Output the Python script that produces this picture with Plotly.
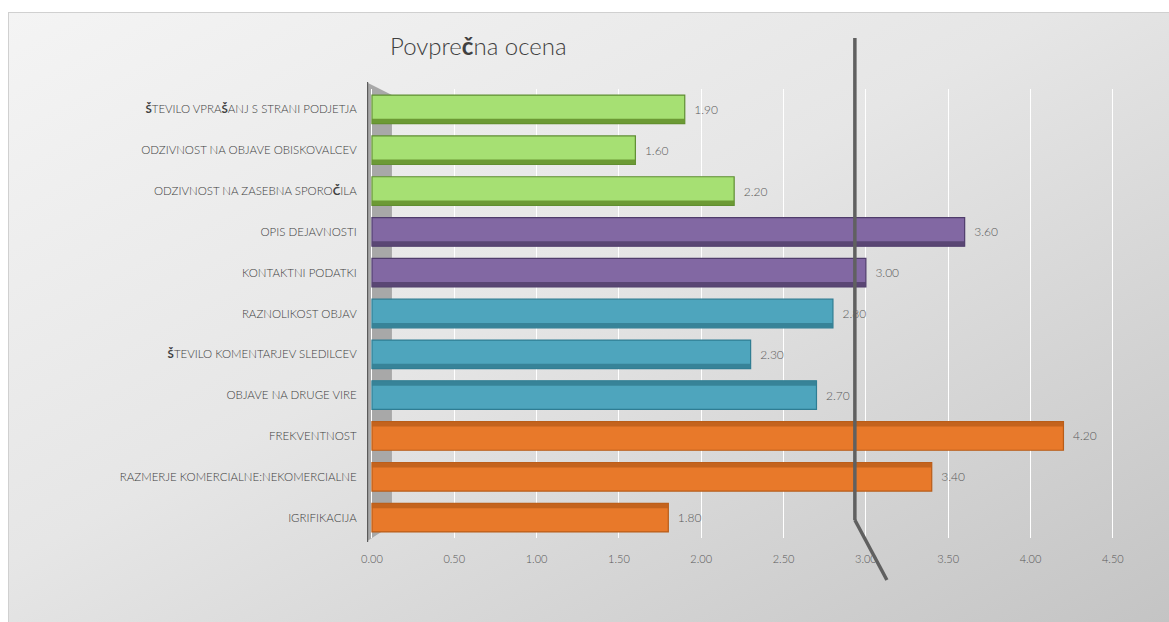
import base64
import plotly.graph_objects as go

# ---------------- data ----------------
categories = [
    "<b>Š</b>TEVILO VPRA<b>Š</b>ANJ S STRANI PODJETJA",
    "ODZIVNOST NA OBJAVE OBISKOVALCEV",
    "ODZIVNOST NA ZASEBNA SPORO<b>Č</b>ILA",
    "OPIS DEJAVNOSTI",
    "KONTAKTNI PODATKI",
    "RAZNOLIKOST OBJAV",
    "<b>Š</b>TEVILO KOMENTARJEV SLEDILCEV",
    "OBJAVE NA DRUGE VIRE",
    "FREKVENTNOST",
    "RAZMERJE KOMERCIALNE:NEKOMERCIALNE",
    "IGRIFIKACIJA",
]
values = [1.90, 1.60, 2.20, 3.60, 3.00, 2.80, 2.30, 2.70, 4.20, 3.40, 1.80]
groups = ["g", "g", "g", "p", "p", "t", "t", "t", "o", "o", "o"]
tick_vals = [0, 0.5, 1, 1.5, 2, 2.5, 3, 3.5, 4, 4.5]
threshold = 3.0
title_text = "Povpre<b>č</b>na ocena"

# ---------------- styles ----------------
face = {"g": "#a6e073", "p": "#8268a3", "t": "#4ea5bd", "o": "#e8792a"}
edge = {"g": "#5f8d33", "p": "#4f3c6b", "t": "#2f7d93", "o": "#b85c18"}
side = {"g": "#66922f", "p": "#55426f", "t": "#357f94", "o": "#c0601c"}

W, H = 1169, 622
ML, MR, MT, MB = 367, 15, 89, 84
pw, ph = W - ML - MR, H - MT - MB


def py(screen_y):
    """screen pixel row -> paper fraction"""
    return (H - MB - screen_y) / ph


svg = f"""<svg xmlns='http://www.w3.org/2000/svg' width='{W}' height='{H}' viewBox='0 0 {W} {H}'>
<defs><linearGradient id='g' x1='0' y1='0' x2='1' y2='1'>
<stop offset='0' stop-color='#f4f4f4'/><stop offset='0.45' stop-color='#e6e6e6'/>
<stop offset='1' stop-color='#c4c4c4'/></linearGradient></defs>
<rect x='0' y='0' width='{W}' height='{H}' fill='#ffffff'/>
<rect x='8.5' y='12.5' width='{W-8}' height='{H-12}' fill='url(#g)' stroke='#d0d0d0' stroke-width='1'/>
</svg>"""
src = "data:image/svg+xml;base64," + base64.b64encode(svg.encode()).decode()

font_fam = "Lato, 'Open Sans', sans-serif"
horizon = 6.5
bar_w = 0.70
strip_w = 0.12

fig = go.Figure()
fig.add_trace(go.Bar(
    y=categories, x=values, orientation="h",
    width=bar_w,
    marker=dict(color=[face[g] for g in groups],
                line=dict(color=[edge[g] for g in groups], width=1.2)),
    texttemplate="\u00a0\u00a0%{x:.2f}", textposition="outside",
    textfont=dict(family=font_fam, size=12, color="#595959", weight=300),
    cliponaxis=False, hoverinfo="skip", showlegend=False,
))
offs = [(bar_w / 2 - strip_w) if i < horizon else -bar_w / 2 for i in range(len(values))]
fig.add_trace(go.Bar(
    y=categories, x=values, orientation="h",
    width=strip_w, offset=offs,
    marker=dict(color=[side[g] for g in groups], line=dict(width=0), opacity=0.9),
    hoverinfo="skip", showlegend=False,
))

# left wall
fig.add_shape(type="path", xref="x", yref="paper", xsizemode="pixel", xanchor=0,
              path=f"M -6,{py(82)} L 20,{py(95)} L 20,{py(525)} L -6,{py(542)} Z",
              fillcolor="#a8a8a8", line=dict(width=0), layer="below")
fig.add_shape(type="line", xref="x", yref="paper", xsizemode="pixel", xanchor=0,
              x0=-5, x1=-5, y0=py(82), y1=py(542), line=dict(color="#5a5a5a", width=2.5))

# threshold line (3D wall line)
fig.add_shape(type="line", xref="x", yref="paper", xsizemode="pixel", xanchor=threshold,
              x0=-11, x1=-11, y0=py(38), y1=py(520), line=dict(color="#606060", width=3.5))
fig.add_shape(type="line", xref="x", yref="paper", xsizemode="pixel", xanchor=threshold,
              x0=-11, x1=21, y0=py(520), y1=py(580), line=dict(color="#606060", width=3.5))

fig.add_layout_image(dict(
    source=src, xref="paper", yref="paper",
    x=-ML / pw, y=1 + MT / ph, sizex=W / pw, sizey=H / ph,
    sizing="stretch", xanchor="left", yanchor="top", layer="below",
))

fig.update_layout(
    width=W, height=H,
    margin=dict(l=ML, r=MR, t=MT, b=MB, pad=0),
    paper_bgcolor="#ffffff", plot_bgcolor="rgba(0,0,0,0)",
    barmode="overlay",
    title=dict(text=title_text, x=390 / W, xanchor="left", y=1 - 47 / H, yanchor="middle",
               yref="container", xref="container",
               font=dict(family=font_fam, size=24, color="#404040", weight=300)),
    xaxis=dict(range=[-0.03, 4.75], tickvals=tick_vals, tickformat=".2f",
               showgrid=True, gridcolor="#ffffff", gridwidth=1.2, zeroline=False,
               showline=False, ticks="outside", ticklen=11, tickcolor="rgba(0,0,0,0)",
               tickfont=dict(family=font_fam, size=11, color="#595959", weight=300)),
    yaxis=dict(autorange="reversed", showgrid=False, zeroline=False, showline=False,
               ticks="outside", ticklen=7, tickcolor="rgba(0,0,0,0)",
               tickfont=dict(family=font_fam, size=11.5, color="#404040", weight=300)),
    font=dict(family=font_fam),
)

fig.write_html("out.html")
